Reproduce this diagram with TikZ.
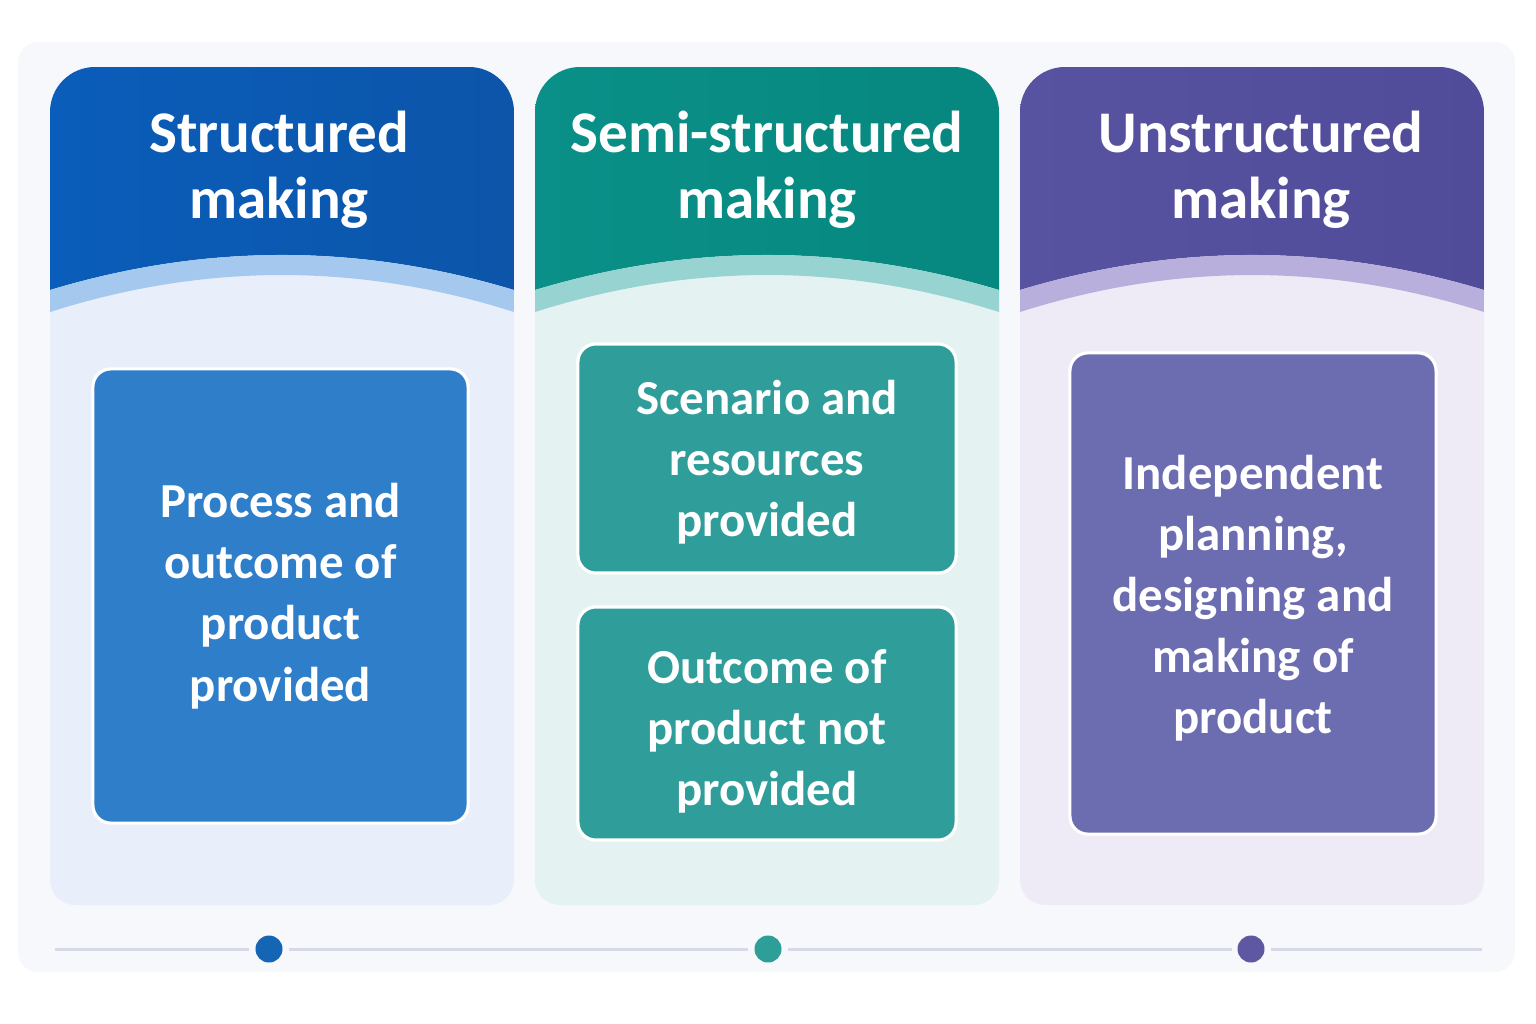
\documentclass[tikz,border=0pt]{standalone}
\usepackage{fontspec}
\setmainfont{Carlito}
\definecolor{panel}{HTML}{F7F8FC}
\definecolor{blueHead}{HTML}{0C55A9}
\definecolor{blueHeadL}{HTML}{0A5DBA}
\definecolor{blueBand}{HTML}{A5C8EE}
\definecolor{blueBody}{HTML}{E8EFFA}
\definecolor{blueBox}{HTML}{2F7EC9}
\definecolor{tealHead}{HTML}{06877F}
\definecolor{tealHeadL}{HTML}{0A9088}
\definecolor{tealBand}{HTML}{97D4D1}
\definecolor{tealBody}{HTML}{E5F2F2}
\definecolor{tealBox}{HTML}{2F9D99}
\definecolor{purpHead}{HTML}{514C99}
\definecolor{purpHeadL}{HTML}{5853A0}
\definecolor{purpBand}{HTML}{B8AFDD}
\definecolor{purpBody}{HTML}{EEEBF7}
\definecolor{purpBox}{HTML}{6C6CB1}
\definecolor{tline}{HTML}{D6D9E6}
\definecolor{blueDot}{HTML}{1565B5}
\definecolor{tealDot}{HTML}{2E9E99}
\definecolor{purpDot}{HTML}{5E58A3}
\tikzset{
  hdtext/.style={text=white, align=center, font=\bfseries\fontsize{16.8}{18.8}\selectfont},
  infobox/.style={rounded corners=0.18cm, draw=white, line width=0.9pt, text=white, align=center,
    inner sep=0pt, font=\bfseries\fontsize{13.9}{17.4}\selectfont},
  tdot/.style={circle, inner sep=0pt, minimum size=0.27cm, outer sep=0.06cm},
}
\begin{document}
\begin{tikzpicture}[x=0.01cm, y=-0.01cm]
\useasboundingbox (0,0) rectangle (1536,1024);
\fill[white] (0,0) rectangle (1536,1024);
\fill[panel, rounded corners=0.2cm] (18,42) rectangle (1515,972);

% columns
\foreach \x/\c in {50/blue, 535/teal, 1020/purp}{
  \fill[\c Body] (\x,480) [rounded corners=0.45cm] -- (\x,67) -- ({\x+464},67) -- ({\x+464},480)
    [rounded corners=0.25cm] -- ({\x+464},905) -- (\x,905) -- cycle;
  \begin{scope}
    \clip (\x,480) [rounded corners=0.45cm] -- (\x,67) -- ({\x+464},67) -- ({\x+464},480) -- cycle;
    \shade[left color=\c HeadL, right color=\c Head] (\x,0) -- ({\x+464},0) -- ({\x+464},290)
      .. controls ({\x+309},243.3) and ({\x+155},243.3) .. (\x,290) -- cycle;
    \fill[\c Band] (\x,290) .. controls ({\x+155},243.3) and ({\x+309},243.3) .. ({\x+464},290)
      -- ({\x+464},312) .. controls ({\x+309},262.7) and ({\x+155},262.7) .. (\x,312) -- cycle;
  \end{scope}
}

% headers
\node[hdtext] (hd1) at (279,170) {Structured\\making};
\node[hdtext] (hd2) at (767,170) {Semi-structured\\making};
\node[hdtext] (hd3) at (1261,170) {Unstructured\\making};

% boxes
\node[infobox, fill=blueBox, minimum width=3.75cm, minimum height=4.54cm] (bx1) at (280.5,596)
  {Process and\\outcome of\\product\\provided};
\node[infobox, fill=tealBox, minimum width=3.78cm, minimum height=2.29cm] (bx2a) at (767,458.5)
  {\rule{0pt}{12pt}Scenario and\\resources\\provided};
\node[infobox, fill=tealBox, minimum width=3.78cm, minimum height=2.33cm] (bx2b) at (767,723.5)
  {\rule{0pt}{14pt}Outcome of\\product not\\provided};
\node[infobox, fill=purpBox, minimum width=3.66cm, minimum height=4.81cm] (bx3) at (1253,593.5)
  {\rule{0pt}{12.4pt}Independent\\planning,\\designing and\\making of\\product};

% timeline
\coordinate (tl0) at (55,949);
\coordinate (tl1) at (1482,949);
\node[tdot, fill=blueDot] (d1) at (269,949) {};
\node[tdot, fill=tealDot] (d2) at (768,949) {};
\node[tdot, fill=purpDot] (d3) at (1251,949) {};
\draw[tline, line width=0.85pt] (tl0) -- (d1);
\draw[tline, line width=0.85pt] (d1) -- (d2);
\draw[tline, line width=0.85pt] (d2) -- (d3);
\draw[tline, line width=0.85pt] (d3) -- (tl1);

\end{tikzpicture}
\end{document}
